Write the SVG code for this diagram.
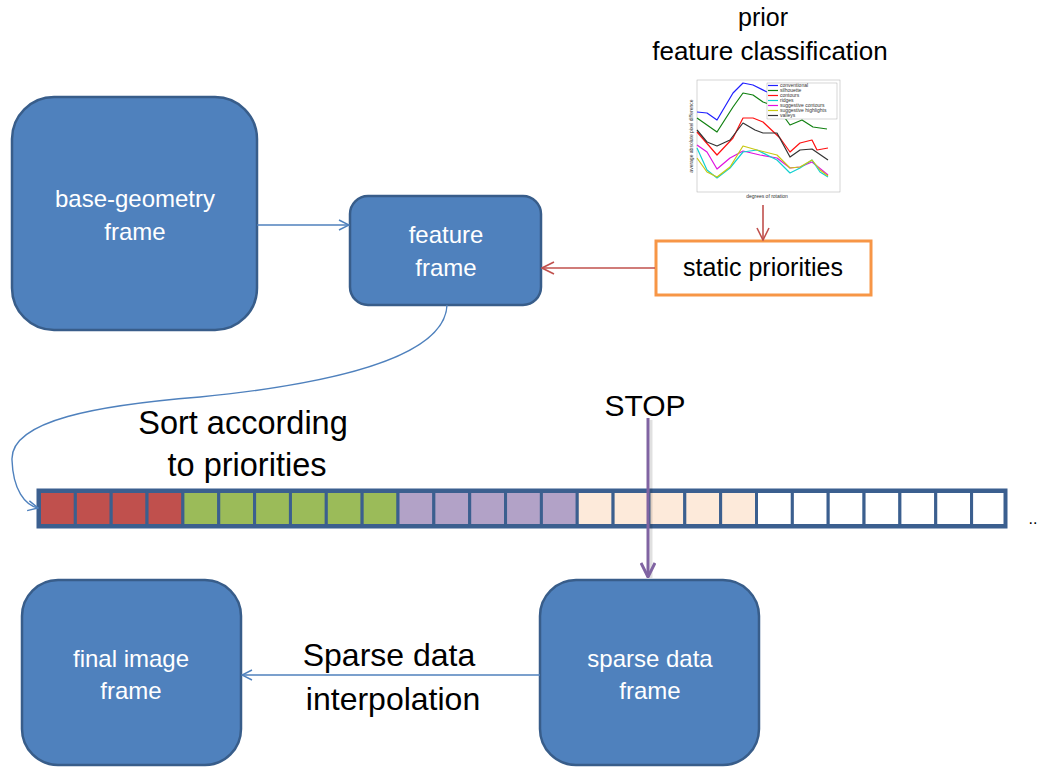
<svg xmlns="http://www.w3.org/2000/svg" width="1040" height="772" viewBox="0 0 1040 772">
<style>
.node{fill:#4F81BD;stroke:#385D8A;stroke-width:2.5}
.nt{font-family:"Liberation Sans",Arial,sans-serif;font-size:24px;fill:#ffffff;text-anchor:middle}
.bt{font-family:"Liberation Sans",Arial,sans-serif;fill:#000000;text-anchor:middle}
.cell{stroke:#3B5F8F;stroke-width:3}
.blue{fill:none;stroke:#4F81BD;stroke-width:1.4}
.red{fill:none;stroke:#C0504D;stroke-width:1.6}
.ln{fill:none;stroke-width:1.2;stroke-linejoin:round}
.lg{font-family:"Liberation Sans",Arial,sans-serif;font-size:5px;fill:#333}
</style>
<defs>
<marker id="ab" viewBox="0 0 12 12" refX="11" refY="6" markerWidth="12" markerHeight="12" markerUnits="userSpaceOnUse" orient="auto">
<path d="M1,1 L11,6 L1,11" fill="none" stroke="#4F81BD" stroke-width="1.4"/>
</marker>
<marker id="ar" viewBox="0 0 14 14" refX="13" refY="7" markerWidth="14" markerHeight="14" markerUnits="userSpaceOnUse" orient="auto">
<path d="M1,1 L13,7 L1,13" fill="none" stroke="#C0504D" stroke-width="1.6"/>
</marker>
<marker id="ap" viewBox="0 0 16 16" refX="15" refY="8" markerWidth="16" markerHeight="16" markerUnits="userSpaceOnUse" orient="auto">
<path d="M1,1 L15,8 L1,15" fill="none" stroke="#8064A2" stroke-width="3"/>
</marker>
</defs>
<rect width="1040" height="772" fill="#ffffff"/>

<g id="base-geometry">
<rect class="node" x="12" y="97" width="245" height="233" rx="42"/>
<text class="nt" x="135" y="207">base-geometry</text>
<text class="nt" x="135" y="240">frame</text>
</g>
<g id="feature-frame">
<rect class="node" x="350" y="196" width="191" height="109" rx="18"/>
<text class="nt" x="446" y="243">feature</text>
<text class="nt" x="446" y="276">frame</text>
</g>
<g id="static-priorities">
<rect x="656" y="241" width="215" height="54" fill="#ffffff" stroke="#F79646" stroke-width="3"/>
<text class="bt" x="763" y="276" font-size="25">static priorities</text>
</g>
<g id="prior-label">
<text class="bt" x="763" y="26" font-size="25">prior</text>
<text class="bt" x="770" y="60" font-size="26">feature classification</text>
</g>
<g id="chart">
<rect x="697" y="80" width="143" height="112" fill="#ffffff" stroke="#aaa" stroke-width="0.5"/>
<polyline class="ln" stroke="#1f1fff" points="697,112 707,113 717,120 733,93 743,83 753,85 767,92"/>
<polyline class="ln" stroke="#108010" points="697,118 717,132 733,107 743,93 753,95 763,102 777,107 790,125 802,120 813,127 827,129"/>
<polyline class="ln" stroke="#ff1010" points="697,132 717,155 733,138 743,118 753,118 763,122 780,138 790,152 800,143 812,140 817,150 828,148"/>
<polyline class="ln" stroke="#333333" points="697,130 707,142 717,146 730,140 743,123 755,130 763,133 777,133 790,157 800,150 812,149 828,160"/>
<polyline class="ln" stroke="#e010e0" points="697,145 707,152 717,169 730,158 743,151 760,155 777,158 790,168 800,167 812,162 828,175"/>
<polyline class="ln" stroke="#10d0d0" points="697,148 707,170 717,178 730,168 743,152 757,150 777,160 790,173 800,168 812,160 820,172 828,177"/>
<polyline class="ln" stroke="#c8c810" points="697,158 707,172 717,177 730,167 743,146 757,150 777,155 790,168 800,167 812,160 820,170 828,176"/>
<rect x="767" y="83" width="70" height="36" fill="#ffffff" stroke="#999" stroke-width="0.4"/>
<g stroke-width="1.2">
<line x1="768" y1="85.5" x2="778" y2="85.5" stroke="#1f1fff"/>
<line x1="768" y1="90.5" x2="778" y2="90.5" stroke="#108010"/>
<line x1="768" y1="95.5" x2="778" y2="95.5" stroke="#ff1010"/>
<line x1="768" y1="100.5" x2="778" y2="100.5" stroke="#10d0d0"/>
<line x1="768" y1="105.5" x2="778" y2="105.5" stroke="#e010e0"/>
<line x1="768" y1="110.5" x2="778" y2="110.5" stroke="#c8c810"/>
<line x1="768" y1="115.5" x2="778" y2="115.5" stroke="#333333"/>
</g>
<text class="lg" x="780" y="87.3">conventional</text>
<text class="lg" x="780" y="92.3">silhouette</text>
<text class="lg" x="780" y="97.3">contours</text>
<text class="lg" x="780" y="102.3">ridges</text>
<text class="lg" x="780" y="107.3">suggestive contours</text>
<text class="lg" x="780" y="112.3">suggestive highlights</text>
<text class="lg" x="780" y="117.3">valleys</text>
<text class="lg" x="767" y="198" text-anchor="middle">degrees of rotation</text>
<text class="lg" x="0" y="0" text-anchor="middle" transform="translate(693,136) rotate(-90)">average absolute pixel difference</text>
</g>

<g id="array">
<rect x="38" y="490" width="968" height="37" fill="#ffffff" stroke="#3B5F8F" stroke-width="3"/>
<g class="cell">
<rect x="39.5" y="491.5" width="35.85" height="34" fill="#C0504D"/>
<rect x="75.35" y="491.5" width="35.85" height="34" fill="#C0504D"/>
<rect x="111.2" y="491.5" width="35.85" height="34" fill="#C0504D"/>
<rect x="147.05" y="491.5" width="35.85" height="34" fill="#C0504D"/>
<rect x="182.9" y="491.5" width="35.85" height="34" fill="#9BBB59"/>
<rect x="218.75" y="491.5" width="35.85" height="34" fill="#9BBB59"/>
<rect x="254.6" y="491.5" width="35.85" height="34" fill="#9BBB59"/>
<rect x="290.45" y="491.5" width="35.85" height="34" fill="#9BBB59"/>
<rect x="326.3" y="491.5" width="35.85" height="34" fill="#9BBB59"/>
<rect x="362.15" y="491.5" width="35.85" height="34" fill="#9BBB59"/>
<rect x="398" y="491.5" width="35.85" height="34" fill="#B2A2C7"/>
<rect x="433.85" y="491.5" width="35.85" height="34" fill="#B2A2C7"/>
<rect x="469.7" y="491.5" width="35.85" height="34" fill="#B2A2C7"/>
<rect x="505.55" y="491.5" width="35.85" height="34" fill="#B2A2C7"/>
<rect x="541.4" y="491.5" width="35.85" height="34" fill="#B2A2C7"/>
<rect x="577.25" y="491.5" width="35.85" height="34" fill="#FDEADA"/>
<rect x="613.1" y="491.5" width="35.85" height="34" fill="#FDEADA"/>
<rect x="648.95" y="491.5" width="35.85" height="34" fill="#FDEADA"/>
<rect x="684.8" y="491.5" width="35.85" height="34" fill="#FDEADA"/>
<rect x="720.65" y="491.5" width="35.85" height="34" fill="#FDEADA"/>
<rect x="756.5" y="491.5" width="35.85" height="34" fill="#ffffff"/>
<rect x="792.35" y="491.5" width="35.85" height="34" fill="#ffffff"/>
<rect x="828.2" y="491.5" width="35.85" height="34" fill="#ffffff"/>
<rect x="864.05" y="491.5" width="35.85" height="34" fill="#ffffff"/>
<rect x="899.9" y="491.5" width="35.85" height="34" fill="#ffffff"/>
<rect x="935.75" y="491.5" width="35.85" height="34" fill="#ffffff"/>
<rect x="971.6" y="491.5" width="33.4" height="34" fill="#ffffff"/>
</g>
<text class="bt" x="1033" y="524" font-size="16">..</text>
</g>

<g id="sparse-data-frame">
<rect class="node" x="540" y="580" width="219" height="185" rx="36"/>
<text class="nt" x="650" y="667">sparse data</text>
<text class="nt" x="650" y="699">frame</text>
</g>
<g id="final-image-frame">
<rect class="node" x="22" y="580" width="219" height="185" rx="36"/>
<text class="nt" x="131" y="667">final image</text>
<text class="nt" x="131" y="699">frame</text>
</g>

<g id="labels">
<text class="bt" x="243" y="434" font-size="32.5">Sort according</text>
<text class="bt" x="247" y="476" font-size="32.5">to priorities</text>
<text class="bt" x="645" y="416" font-size="30">STOP</text>
<text class="bt" x="389" y="666" font-size="32">Sparse data</text>
<text class="bt" x="393" y="710" font-size="32">interpolation</text>
</g>

<g id="connectors">
<line class="blue" x1="257" y1="225" x2="349" y2="225" marker-end="url(#ab)"/>
<line class="red" x1="763" y1="205" x2="763" y2="240" marker-end="url(#ar)"/>
<line class="red" x1="655" y1="268" x2="542" y2="268" marker-end="url(#ar)"/>
<path class="blue" d="M447,305 C445,360 320,385 200,397 C100,405 10,420 12,460 C13,490 25,505 38,508" marker-end="url(#ab)"/>
<line x1="651" y1="420" x2="651" y2="578" stroke="#000" stroke-opacity="0.12" stroke-width="3"/>
<line x1="648" y1="418" x2="648" y2="577" stroke="#8064A2" stroke-width="3" marker-end="url(#ap)"/>
<line class="blue" x1="540" y1="675" x2="242" y2="675" marker-end="url(#ab)"/>
</g>
</svg>
